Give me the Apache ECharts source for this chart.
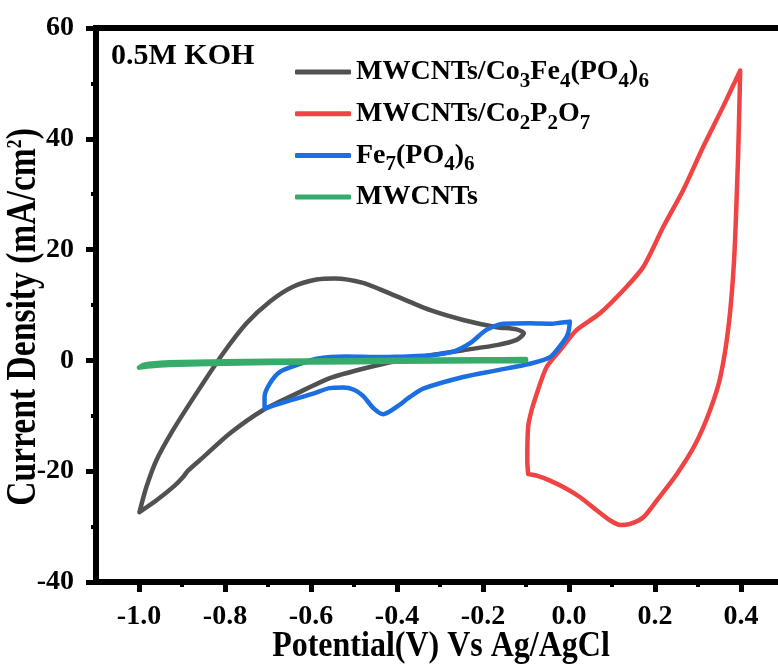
<!DOCTYPE html>
<html>
<head>
<meta charset="utf-8">
<script src="https://cdn.jsdelivr.net/npm/echarts@6/dist/echarts.min.js"></script>
<style>
  html, body { margin: 0; padding: 0; background: #fff; }
  #cv { width: 778px; height: 666px; }
</style>
</head>
<body>
<div id="cv"></div>
<script>
// CV loops, [potential V, current density mA/cm2]
const cfpLoop = [
  [-0.999, -27.4], [-0.983, -22.9], [-0.96, -18.1], [-0.921, -12.6], [-0.867, -6.0],
  [-0.805, 1.2], [-0.75, 6.7], [-0.696, 10.6], [-0.642, 13.3], [-0.587, 14.6],
  [-0.545, 14.8], [-0.479, 14.0], [-0.417, 12.1], [-0.324, 9.1], [-0.246, 7.3],
  [-0.168, 6.0], [-0.122, 5.6], [-0.105, 4.9], [-0.122, 3.7], [-0.168, 2.75],
  [-0.246, 1.85], [-0.324, 0.9], [-0.401, -0.1], [-0.479, -1.5], [-0.556, -3.2],
  [-0.634, -6.0], [-0.712, -9.0], [-0.789, -13.2], [-0.851, -17.5], [-0.886, -19.9],
  [-0.898, -21.1], [-0.917, -22.6], [-0.96, -25.3], [-0.999, -27.4]
]
const cppLoop = [
  [-0.095, -20.5], [-0.097, -18.1], [-0.095, -12.0], [-0.087, -9.0], [-0.075, -6.0],
  [-0.052, -1.2], [-0.021, 1.8], [0.018, 5.5], [0.072, 8.5], [0.134, 13.3],
  [0.173, 16.9], [0.22, 24.2], [0.266, 30.8], [0.313, 38.7], [0.359, 45.9],
  [0.398, 52.3], [0.397, 48.4], [0.393, 36.3], [0.384, 18.2], [0.371, 6.1],
  [0.352, -3.0], [0.328, -9.0], [0.294, -15.1], [0.251, -20.5], [0.204, -25.3],
  [0.173, -28.3], [0.142, -29.5], [0.119, -29.7], [0.096, -28.9], [0.065, -27.1],
  [0.026, -24.7], [-0.005, -23.2], [-0.044, -21.7], [-0.075, -20.8], [-0.095, -20.5]
]
const fpLoop = [
  [-0.708, -8.7], [-0.708, -6.6], [-0.696, -4.2], [-0.673, -2.1], [-0.634, -0.87],
  [-0.587, 0.3], [-0.517, 0.7], [-0.45, 0.6], [-0.401, 0.64], [-0.324, 0.94],
  [-0.269, 1.6], [-0.23, 3.1], [-0.192, 5.5], [-0.153, 6.6], [-0.091, 6.7],
  [-0.04, 6.6], [-0.021, 6.8], [0.002, 7.0], [-0.002, 4.9], [-0.013, 3.4],
  [-0.044, 0.6], [-0.091, -0.6], [-0.168, -1.8], [-0.246, -3.0], [-0.339, -5.1],
  [-0.37, -6.6], [-0.401, -8.4], [-0.432, -9.7], [-0.455, -8.6], [-0.479, -6.4],
  [-0.5, -5.3], [-0.525, -4.9], [-0.557, -5.0], [-0.595, -6.0], [-0.673, -7.8],
  [-0.708, -8.7]
]
const cntLoop = [
  [-1.0, -1.3], [-0.99, -0.8], [-0.97, -0.55], [-0.93, -0.35], [-0.8, -0.15],
  [-0.6, 0.0], [-0.4, 0.1], [-0.2, 0.2], [-0.1, 0.25], [-0.1, -0.1],
  [-0.2, -0.15], [-0.4, -0.25], [-0.6, -0.4], [-0.8, -0.6], [-0.93, -0.85],
  [-0.98, -1.1], [-1.0, -1.3]
]

const seriesNames = ['MWCNTs/Co3Fe4(PO4)6', 'MWCNTs/Co2P2O7', 'Fe7(PO4)6', 'MWCNTs']
const seriesLoops = [cfpLoop, cppLoop, fpLoop, cntLoop]
const colorList = ['#515151', '#f04343', '#1b6fe0', '#36ab6a']
const legendText = {
  'MWCNTs/Co3Fe4(PO4)6': 'MWCNTs/Co{sub|3}Fe{sub|4}(PO{sub|4}){sub|6}',
  'MWCNTs/Co2P2O7': 'MWCNTs/Co{sub|2}P{sub|2}O{sub|7}',
  'Fe7(PO4)6': 'Fe{sub|7}(PO{sub|4}){sub|6}',
  'MWCNTs': 'MWCNTs'
}

const serif = "'Liberation Serif', 'Times New Roman', serif"
const chart = echarts.init(document.getElementById('cv'))

const tickLabel = {
  color: '#000',
  fontFamily: serif,
  fontWeight: 'bold',
  fontSize: 28
}

const option = {
  animation: false,
  grid: [
    {
      left: 96, right: -6, top: 28, bottom: 84,
      show: true, borderColor: '#000', borderWidth: 6,
      outerBoundsMode: 'none'
    },
    { left: 139, right: 37, top: 28, bottom: 84, outerBoundsMode: 'none' }
  ],
  xAxis: [
    {
      type: 'value', gridIndex: 0, min: -1.1, max: 0.5,
      axisLine: { onZero: false, lineStyle: { color: '#000', width: 6 } },
      axisTick: { show: false },
      axisLabel: { show: false },
      splitLine: { show: false }
    },
    {
      type: 'value', gridIndex: 1, min: -1.0, max: 0.4, interval: 0.2,
      axisLine: { show: false, onZero: false },
      axisTick: { length: 10, lineStyle: { color: '#000', width: 5 } },
      minorTick: { show: true, splitNumber: 2, length: 5, lineStyle: { color: '#000', width: 4 } },
      axisLabel: {
        ...tickLabel,
        margin: 21,
        formatter: v => (Math.abs(v) < 1e-9 ? '0.0' : v.toFixed(1))
      },
      splitLine: { show: false }
    }
  ],
  yAxis: [
    {
      type: 'value', gridIndex: 0, min: -40, max: 60, interval: 20,
      axisLine: { show: true, onZero: false, lineStyle: { color: '#000', width: 6 } },
      axisTick: { show: true, length: 10, lineStyle: { color: '#000', width: 5 } },
      minorTick: { show: true, splitNumber: 2, length: 5, lineStyle: { color: '#000', width: 4 } },
      axisLabel: { ...tickLabel, margin: 22 },
      splitLine: { show: false }
    },
    { type: 'value', gridIndex: 1, min: -40, max: 60, show: false }
  ],
  legend: seriesNames.map((name, i) => ({
    data: [name],
    left: 295,
    top: 52 + i * 41.7,
    padding: 0,
    icon: 'roundRect',
    itemWidth: 56,
    itemHeight: 5,
    itemStyle: { borderWidth: 0 },
    formatter: n => legendText[n],
    textStyle: {
      color: '#000',
      fontFamily: serif,
      fontWeight: 'bold',
      fontSize: 28,
      lineHeight: 40,
      rich: {
        sub: {
          color: '#000',
          fontFamily: serif,
          fontWeight: 'bold',
          fontSize: 21,
          lineHeight: 21,
          padding: [19, 0, 0, 0]
        }
      }
    }
  })),
  graphic: [
    {
      type: 'text', x: 111, y: 56,
      style: {
        text: '0.5M KOH', fill: '#000',
        font: 'bold 30px ' + serif,
        align: 'left', verticalAlign: 'middle'
      }
    },
    {
      type: 'text', x: 441, y: 646, scaleY: 1.15,
      style: {
        text: 'Potential(V) Vs Ag/AgCl', fill: '#000',
        font: 'bold 32px ' + serif,
        align: 'center', verticalAlign: 'middle'
      }
    },
    {
      type: 'text', x: 24, y: 317, rotation: Math.PI / 2, scaleX: 0.8,
      style: {
        text: 'Current Density (mA/cm{sup|2})', fill: '#000',
        font: 'bold 42px ' + serif,
        align: 'center', verticalAlign: 'middle',
        rich: {
          sup: {
            fill: '#000',
            fontFamily: serif,
            fontWeight: 'bold',
            fontSize: 22,
            lineHeight: 22,
            padding: [0, 0, 17, 0]
          }
        }
      }
    }
  ],
  series: seriesLoops.map((loop, i) => ({
    name: seriesNames[i],
    type: 'line',
    xAxisIndex: 0,
    yAxisIndex: 0,
    data: loop,
    color: colorList[i],
    showSymbol: false,
    symbol: 'none',
    smooth: 0.25,
    lineStyle: { color: colorList[i], width: 4.5, cap: 'round', join: 'round' }
  }))
}

chart.setOption(option)
</script>
</body>
</html>
